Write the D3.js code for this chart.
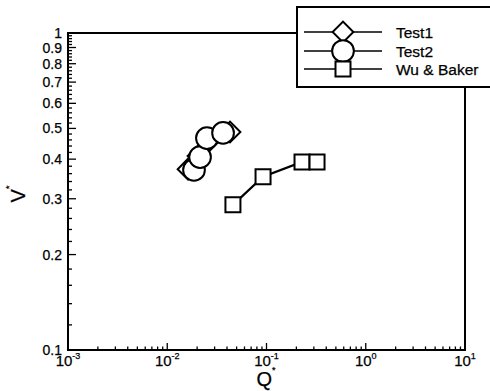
<!DOCTYPE html>
<html>
<head>
<meta charset="utf-8">
<script src="https://cdn.jsdelivr.net/npm/d3@7"></script>
<style>
  body { margin: 0; background: #fff; }
  svg { display: block; font-family: "Liberation Sans", Arial, sans-serif; }
  text { fill: #000; stroke: #000; stroke-width: 0.25px; }
</style>
</head>
<body>
<div id="chart"></div>
<script>
// data
var test1Q = [0.0162, 0.0204, 0.0270, 0.0429];
var test1V = [0.372, 0.409, 0.460, 0.487];
var test2Q = [0.0186, 0.0214, 0.0251, 0.0365];
var test2V = [0.370, 0.406, 0.466, 0.484];
var wuQ = [0.0459, 0.0923, 0.228, 0.323];
var wuV = [0.287, 0.352, 0.392, 0.392];

var seriesNames = ["Test1", "Test2", "Wu & Baker"];
var xTickExps = [-3, -2, -1, 0, 1];
var yTickLabels = ["0.1", "0.2", "0.3", "0.4", "0.5", "0.6", "0.7", "0.8", "0.9", "1"];

var W = 490, H = 391;
var pL = 68, pR = 465, pT = 33, pB = 350;

var svg = d3.select("#chart").append("svg")
    .attr("width", W)
    .attr("height", H);

var x = d3.scaleLog().domain([1e-3, 10]).range([pL, pR]);
var y = d3.scaleLog().domain([0.1, 1]).range([pB, pT]);

// minor/major ticks on x (inside, pointing up)
var xt = x.ticks();
svg.append("g").selectAll("line")
    .data(xt)
    .enter().append("line")
    .attr("x1", function(d) { return x(d); })
    .attr("x2", function(d) { return x(d); })
    .attr("y1", pB)
    .attr("y2", function(d) {
        var isMajor = Math.abs(Math.log10(d) - Math.round(Math.log10(d))) < 1e-9;
        return pB - (isMajor ? 7 : 3.5);
    })
    .attr("stroke", "#000")
    .attr("stroke-width", 1.3);

// y ticks every 0.02, labelled every 0.1
var yMinor = d3.range(10, 101, 2).map(function(d) { return d / 100; });
svg.append("g").selectAll("line")
    .data(yMinor)
    .enter().append("line")
    .attr("x1", pL)
    .attr("x2", function(d) { return pL + (Math.round(d * 100) % 10 === 0 ? 8 : 4); })
    .attr("y1", function(d) { return y(d); })
    .attr("y2", function(d) { return y(d); })
    .attr("stroke", "#000")
    .attr("stroke-width", 1.3);

// y tick labels
svg.append("g").selectAll("text")
    .data(yTickLabels)
    .enter().append("text")
    .attr("x", 62)
    .attr("y", function(d) { return y(+d); })
    .attr("dy", "0.36em")
    .attr("text-anchor", "end")
    .attr("font-size", 14)
    .text(function(d) { return d; });

// x tick labels 10^n
var xl = svg.append("g").selectAll("text")
    .data(xTickExps)
    .enter().append("text")
    .attr("x", function(d) { return x(Math.pow(10, d)); })
    .attr("y", 366)
    .attr("text-anchor", "middle")
    .attr("font-size", 15);
xl.append("tspan").text("10");
xl.append("tspan")
    .attr("font-size", 9)
    .attr("dy", -7)
    .text(function(d) { return d; });

// frame
svg.append("path")
    .attr("d", "M" + pL + "," + pT + "H" + pR + "V" + pB + "H" + pL + "Z")
    .attr("fill", "none")
    .attr("stroke", "#000")
    .attr("stroke-width", 2);

// axis titles
var qt = svg.append("text")
    .attr("x", 266)
    .attr("y", 386)
    .attr("text-anchor", "middle")
    .attr("font-size", 20)
    .text("Q");
qt.append("tspan").attr("font-size", 9).attr("dy", -13).text("*");

var vt = svg.append("text")
    .attr("transform", "translate(25,194) rotate(-90)")
    .attr("text-anchor", "middle")
    .attr("font-size", 20)
    .text("V");
vt.append("tspan").attr("font-size", 9).attr("dy", -13).text("*");

var line = d3.line()
    .x(function(d) { return x(d[0]); })
    .y(function(d) { return y(d[1]); });

// diamond = square turned by 45 degrees
var series = [
    { name: seriesNames[0], q: test1Q, v: test1V, shape: d3.symbolSquare, size: 215, rot: 45 },
    { name: seriesNames[1], q: test2Q, v: test2V, shape: d3.symbolCircle, size: 370, rot: 0 },
    { name: seriesNames[2], q: wuQ, v: wuV, shape: d3.symbolSquare, size: 225, rot: 0 }
];

series.forEach(function(s) {
    var pts = s.q.map(function(d, i) { return [d, s.v[i]]; });
    var g = svg.append("g");
    g.append("path")
        .attr("d", line(pts))
        .attr("fill", "none")
        .attr("stroke", "#000")
        .attr("stroke-width", 2.2);
    g.selectAll("path.pt")
        .data(pts)
        .enter().append("path")
        .attr("class", "pt")
        .attr("transform", function(d) {
            return "translate(" + x(d[0]) + "," + y(d[1]) + ") rotate(" + s.rot + ")";
        })
        .attr("d", d3.symbol().type(s.shape).size(s.size))
        .attr("fill", "#fff")
        .attr("stroke", "#000")
        .attr("stroke-width", 2);
});

// legend
var lg = svg.append("g");
lg.append("rect")
    .attr("x", 297)
    .attr("y", 7)
    .attr("width", 200)
    .attr("height", 80)
    .attr("fill", "#fff")
    .attr("stroke", "#000")
    .attr("stroke-width", 2);

var rowY = [32, 51, 69];
series.forEach(function(s, i) {
    lg.append("line")
        .attr("x1", 304).attr("x2", 382)
        .attr("y1", rowY[i]).attr("y2", rowY[i])
        .attr("stroke", "#000")
        .attr("stroke-width", 1.6);
    lg.append("path")
        .attr("transform", "translate(343," + rowY[i] + ") rotate(" + s.rot + ")")
        .attr("d", d3.symbol().type(s.shape).size(s.size))
        .attr("fill", "#fff")
        .attr("stroke", "#000")
        .attr("stroke-width", 2);
    lg.append("text")
        .attr("x", 396)
        .attr("y", rowY[i])
        .attr("dy", "0.36em")
        .attr("font-size", 15.5)
        .text(s.name);
});
</script>
</body>
</html>
